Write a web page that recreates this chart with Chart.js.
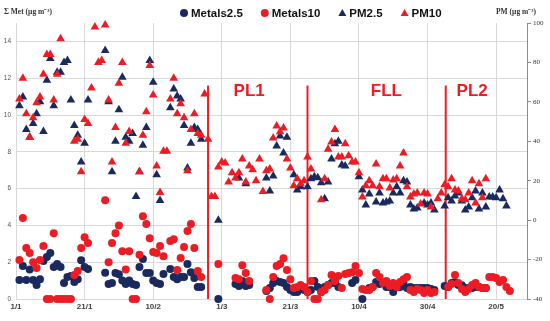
<!DOCTYPE html>
<html>
<head>
<meta charset="utf-8">
<script src="https://cdn.jsdelivr.net/npm/chart.js@4.4.0/dist/chart.umd.min.js"></script>
<style>
  html, body { margin: 0; padding: 0; background: #fff; }
  #wrap { width: 550px; height: 321px; }
</style>
</head>
<body>
<div id="wrap"><canvas id="chart" width="550" height="321"></canvas></div>
<script>
// x = day index counted from 1 January (index 0)
const tickDays = [0, 20, 40, 60, 80, 100, 120, 140];
const tickLabels = ['1/1', '21/1', '10/2', '1/3', '21/3', '10/4', '30/4', '20/5'];

// Σ metals, left axis (µg m-3), one value per day, null = no sample
const metals25 = [
  null, 1.03, 1.8, 1.03, 1.6, 1.03, 0.76, 1.08, 2.06, 2.28,
  2.5, 1.74, 1.9, 1.74, 0.87, 1.19, 1.25, 0.92, 1.08, 2.1,
  1.74, 1.63, null, null, null, null, 1.43, 0.81, 0.87, 1.41,
  1.35, 1.0, 0.81, 1.0, 0.81, 0.76, 1.74, 2.17, 1.41, 1.41,
  1.0, 0.87, 0.81, 1.36, null, 1.63, 1.19, 1.08, 1.19, 1.19,
  1.9, 1.46, 1.14, 0.65, 0.65, null, null, null, null, 0,
  null, null, null, null, 0.81, 0.7, 0.98, 0.7, 0.76, null,
  null, null, null, 0.43, 0.6, 0.87, 0.98, 0.92, 0.87, 0.65,
  0.49, 0.38, 0.38, 0.54, 0.49, 0.38, 0.49, 0.98, 0.65, 0.38,
  0.65, 0.76, 0.87, 0.87, 0.65, null, null, null, 0.87, 1.03,
  null, 0, null, 0.6, 0.65, 0.92, 0.81, 0.87, 0.65, 0.65,
  0.38, 0.65, 0.65, 0.87, 0.6, 0.65, 0.6, 0.6, 0.6, 0.6,
  0.6, 0.55, 0.49, null, null, 0.7, 0.65, 0.87, 0.92, 0.76,
  0.75, 0.6, 0.6, 0.6, 0.65, 0.65, 0.6, 0.6
];
const metals10 = [
  null, 2.12, 4.4, 2.77, 2.5, 2.0, 1.68, 2.12, 2.88, 0,
  0, 3.58, 0, 0, 0, 0, 0, 1.3, 1.52, 2.77,
  3.36, 3.04, null, null, null, null, 5.37, 2.0, 3.04, 3.58,
  4.0, 2.6, 1.6, 2.6, 0, 0, 2.4, 4.5, 4.07, 3.3,
  2.55, 2.5, 2.88, 2.33, null, 3.15, 3.25, 1.57, 2.23, 2.82,
  3.69, 4.07, 2.77, 1.52, 1.2, null, null, null, null, 1.9,
  null, null, null, null, 1.14, 1.08, 1.84, 1.41, 0.98, null,
  null, null, null, 0.49, 0, 1.2, 1.79, 1.9, 2.22, 1.57,
  1.08, 0.6, 0.65, 0.76, 0.65, 0.38, 0.98, 0, 0, 0.38,
  0.49, 0.76, 1.3, 0.98, 1.25, 0.6, 1.36, 1.41, 1.46, 1.79,
  1.41, 0.54, 0.49, 0.49, 0.65, 1.41, 1.2, 0.87, 0.98, 0.7,
  0.87, 0.65, 0.92, 1.08, 1.19, 0.49, 0.38, 0.54, 0.49, 0.33,
  0.49, 0.33, 0.38, null, null, null, 0.65, 0.81, 1.3, 0.87,
  0.54, 0.38, 0.54, 0.76, 0.87, 0.65, 0.6, 0.6, 1.19, 1.19,
  1.14, 0.92, 1.03, 0.65, 0.43
];

// PM mass, right axis (µg m-3)
const pm25 = [
  null, 58, 62.5, 46, 42, 49, 54, 60, 45, 71,
  82, 58, 75, 75, 80, 81, 61, 48, 43, 29.5,
  39, 61, null, null, null, null, 86, 60, 24.5, 40,
  56, 72.5, 42, 40, 44, 12, 24.5, 38, 47, 81,
  70, 23, 10, null, null, 57, 66.5, 63, 61.5, 48,
  26.5, 39, 47, 46, 41, null, null, null, null, 0,
  null, null, null, null, null, 21.4, null, 18.4, null, null,
  null, null, null, 21.4, 14.8, 22.4, 37.6, 42.7, 34, 42,
  null, 23, 15.3, 16.9, null, 17, 21, 22, 21.5, 19,
  10.8, 19.4, 31, 38.7, 40, 28, 27.5, null, null, null,
  22, 15.3, 7.7, 13.3, null, 9.2, 13.8, 8.7, 9.2, 9.7,
  13.8, 16.9, 13.8, 20, 19.4, 7.7, 5.7, 6.2, null, 8.7,
  7.7, 8.7, 5.2, null, null, 7.2, 11.3, 9.7, 12.3, 13.8,
  9.7, 5.2, 6.7, 11.3, 14.8, 5.7, 13.8, 6.7, 11.8, 11.8,
  11.3, 15.3, 10.8, 7.2
];
const pm10 = [
  null, 61.5, 72, 54, 42, 52, 59.5, 62.5, 74, 84,
  84, 61, 74, 92, null, null, null, 40, 41, 24.5,
  51, 49, 67, 98, 80, 81, 99, 61, 29.5, 47,
  69.5, 80, 39, 45, null, null, 24.5, 43, 55, 78.5,
  63.5, 27.5, 14, 35, 35, 61.5, 72, 54, 59, 52,
  25, 46, 54, 44, 43, 64, 41, 12, 12, 27,
  29.5, 29, 19.4, 24, 21.4, 24, 31, 19.4, 27.5, 25.5,
  20, 31, 14.5, 25, 26, 41.7, 47.8, 44.8, 46.8, 31,
  26.5, 17.4, 21, 18.4, 20, 32, 26, null, null, 10.3,
  21, 36, 39.7, 46, 32, 32, 38.7, 32.6, 29.5, 29.5,
  24, 11.8, 17.4, 20, 17.4, 28.5, 16.9, 21, 21, 16.3,
  20.4, 21, 27.5, 34, 17, 11.8, 13.3, 13.8, 8.2, 13.8,
  13.3, 6.7, null, 10.8, 13.8, 17.9, 17, 21, 15.3, 14.8,
  10.8, 10.3, 13.8, 20, 8.7, 18.4, 11.3, 21
];

// campaign periods: boundary days and label positions
const periodDays = [56, 85, 125.3];
const periodTop = 11.6;
const periodLabels = ['PL1', 'FLL', 'PL2'];
const periodLabelDays = [68, 108, 133];
const periodLabelLevel = 11.3;

const NAVY = '#1b2a5e';
const RED = '#ec1c24';

function toPoints(arr) {
  return arr.map((v, i) => (v === null ? null : { x: i, y: v })).filter(p => p);
}

function series(label, values, axis, style, color, order) {
  return {
    label,
    data: toPoints(values),
    yAxisID: axis,
    pointStyle: style,
    pointRadius: style === 'circle' ? 4 : 5,
    backgroundColor: color,
    borderColor: color,
    borderWidth: 0,
    clip: false,
    order
  };
}

const datasets = [
  series('Metals2.5', metals25, 'y', 'circle', NAVY, 4),
  series('Metals10', metals10, 'y', 'circle', RED, 3),
  series('PM2.5', pm25, 'y1', 'triangle', NAVY, 2),
  series('PM10', pm10, 'y1', 'triangle', RED, 1)
];
periodDays.forEach(d => {
  datasets.push({
    label: '',
    data: [{ x: d, y: 0 }, { x: d, y: periodTop }],
    yAxisID: 'y',
    showLine: true,
    borderColor: RED,
    borderWidth: 2,
    pointRadius: 0,
    clip: false,
    order: 5
  });
});

// legend, axis titles and period labels
const annotate = {
  id: 'annotate',
  afterDraw(chart) {
    const { ctx, scales } = chart;
    ctx.save();

    ctx.fillStyle = RED;
    ctx.font = 'bold 17px "Liberation Sans", Arial, sans-serif';
    ctx.textAlign = 'center';
    ctx.textBaseline = 'middle';
    periodLabels.forEach((t, i) => {
      ctx.fillText(t, scales.x.getPixelForValue(periodLabelDays[i]),
        scales.y.getPixelForValue(periodLabelLevel));
    });

    ctx.fillStyle = '#333';
    ctx.font = 'bold 7.5px "Liberation Serif", serif';
    ctx.textAlign = 'left';
    ctx.fillText('Σ Met (µg m⁻³)', 4, 12);
    ctx.textAlign = 'right';
    ctx.fillText('PM (µg m⁻³)', 536, 12);

    ctx.font = 'bold 11.5px "Liberation Sans", Arial, sans-serif';
    ctx.textAlign = 'left';
    let x = 184;
    const y = 13;
    datasets.slice(0, 4).forEach(ds => {
      ctx.fillStyle = ds.backgroundColor;
      ctx.beginPath();
      if (ds.pointStyle === 'circle') {
        ctx.arc(x, y, 4, 0, Math.PI * 2);
      } else {
        ctx.moveTo(x, y - 4);
        ctx.lineTo(x + 4, y + 3);
        ctx.lineTo(x - 4, y + 3);
        ctx.closePath();
      }
      ctx.fill();
      ctx.fillStyle = '#111';
      ctx.fillText(ds.label, x + 7, y + 0.5);
      x += 7 + ctx.measureText(ds.label).width + 22;
    });

    ctx.restore();
  }
};

new Chart(document.getElementById('chart'), {
  type: 'scatter',
  data: { datasets },
  options: {
    responsive: false,
    animation: false,
    events: [],
    layout: { padding: { top: 23, left: 0, right: 0, bottom: 0 }, autoPadding: false },
    plugins: { legend: { display: false }, tooltip: { enabled: false } },
    scales: {
      x: {
        type: 'linear',
        min: 0,
        max: 149,
        afterBuildTicks: s => { s.ticks = tickDays.map(v => ({ value: v })); },
        afterFit: s => { s.height = 22; },
        grid: { color: '#d9d9d9', drawTicks: false },
        border: { color: '#d9d9d9' },
        ticks: {
          padding: 3,
          color: '#404040',
          font: { family: '"Liberation Sans", Arial, sans-serif', size: 8, weight: 'bold' },
          maxRotation: 0,
          callback: v => tickLabels[tickDays.indexOf(v)]
        }
      },
      y: {
        position: 'left',
        min: 0,
        max: 15,
        afterFit: s => { s.width = 16; },
        grid: { color: '#d9d9d9', drawTicks: false },
        border: { color: '#d9d9d9' },
        ticks: {
          stepSize: 2,
          includeBounds: false,
          padding: 5,
          color: '#555',
          font: { family: '"Liberation Sans", Arial, sans-serif', size: 6.5 }
        }
      },
      y1: {
        position: 'right',
        min: -40,
        max: 100,
        afterFit: s => { s.width = 23; },
        grid: { drawOnChartArea: false, color: '#8c8c8c', tickLength: 4 },
        border: { color: '#8c8c8c' },
        ticks: {
          stepSize: 20,
          padding: 2,
          color: '#333',
          font: { family: '"Liberation Serif", serif', size: 7 }
        }
      }
    }
  },
  plugins: [annotate]
});
</script>
</body>
</html>
